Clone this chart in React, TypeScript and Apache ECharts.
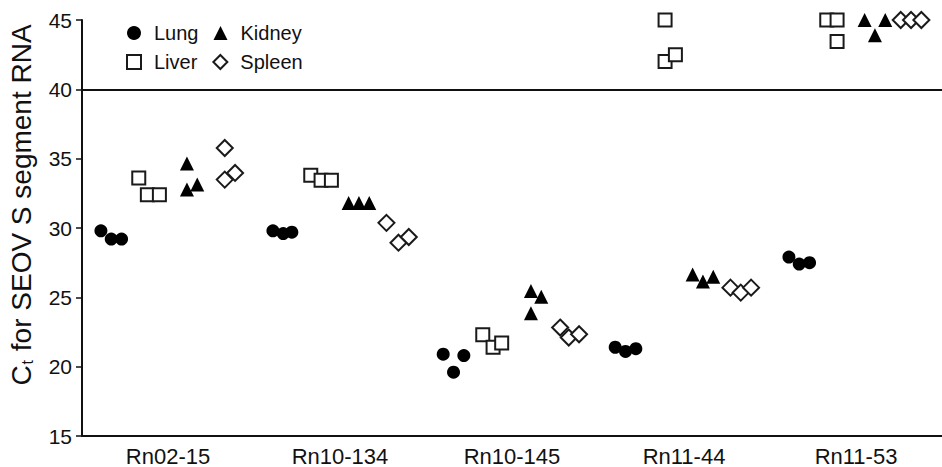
import React, { useEffect, useRef } from "react";
import * as echarts from "echarts";

// Categories (virus genotype samples)
const genes: string[] = ["Rn02-15", "Rn10-134", "Rn10-145", "Rn11-44", "Rn11-53"];

// Ct values per organ, triplicates per sample (45 = not detected)
const lungCt: number[][] = [
  [29.8, 29.2, 29.2],
  [29.8, 29.6, 29.7],
  [20.9, 19.6, 20.8],
  [21.4, 21.1, 21.3],
  [27.9, 27.4, 27.5],
];
const liverCt: number[][] = [
  [33.6, 32.4, 32.4],
  [33.8, 33.45, 33.45],
  [22.3, 21.4, 21.7],
  [45, 42.0, 42.5],
  [45, 45, 43.45],
];
const kidneyCt: number[][] = [
  [34.65, 32.77, 33.13],
  [31.8, 31.8, 31.8],
  [25.45, 25.05, 23.85],
  [26.65, 26.15, 26.49],
  [45, 43.9, 45],
];
const spleenCt: number[][] = [
  [35.77, 33.49, 33.97],
  [30.37, 28.94, 29.35],
  [22.82, 22.1, 22.34],
  [25.7, 25.34, 25.7],
  [45, 45, 45],
];

// Horizontal jitter of each replicate, in category units
const lungDx: number[][] = [
  [-0.39, -0.33, -0.27],
  [-0.39, -0.33, -0.28],
  [-0.4, -0.34, -0.28],
  [-0.4, -0.34, -0.28],
  [-0.39, -0.33, -0.27],
];
const liverDx: number[][] = [
  [-0.17, -0.12, -0.05],
  [-0.17, -0.11, -0.05],
  [-0.17, -0.11, -0.06],
  [-0.11, -0.11, -0.05],
  [-0.17, -0.11, -0.11],
];
const kidneyDx: number[][] = [
  [0.11, 0.11, 0.17],
  [0.05, 0.11, 0.17],
  [0.11, 0.17, 0.11],
  [0.05, 0.11, 0.17],
  [0.05, 0.11, 0.17],
];
const spleenDx: number[][] = [
  [0.33, 0.33, 0.39],
  [0.27, 0.34, 0.4],
  [0.28, 0.33, 0.39],
  [0.27, 0.33, 0.39],
  [0.26, 0.32, 0.38],
];

const cutoff = 40;

const FONT = "'Liberation Sans', Arial, Helvetica, sans-serif";
const INK = "#111";

function toPoints(ct: number[][], dx: number[][]): number[][] {
  const out: number[][] = [];
  ct.forEach((row, i) => row.forEach((v, j) => out.push([i + dx[i][j], v])));
  return out;
}

export default function App() {
  const ref = useRef<HTMLDivElement>(null);
  useEffect(() => {
    if (!ref.current) return;
    const chart = echarts.init(ref.current, undefined, { renderer: "svg" });
    const filled = { color: "#000", opacity: 1 };
    const hollow = { color: "#fff", borderColor: "#1a1a1a", borderWidth: 2, opacity: 1 };
    chart.setOption({
      animation: false,
      backgroundColor: "#fff",
      grid: { left: 82, right: -10, top: 20, bottom: 30, containLabel: false },
      legend: {
        left: 126,
        top: 23,
        width: 200,
        padding: 0,
        orient: "horizontal",
        itemWidth: 14,
        itemHeight: 14,
        itemGap: 9,
        selectedMode: false,
        data: ["Lung", "Kidney", "Liver", "Spleen"],
        formatter: (name: string) => `{t|${name}}`,
        textStyle: {
          fontFamily: FONT,
          fontSize: 20,
          color: INK,
          rich: {
            t: { fontFamily: FONT, fontSize: 20, lineHeight: 20, color: INK, padding: [0, 6, 0, 8] },
          },
        },
      },
      xAxis: [
        {
          type: "category",
          data: genes,
          boundaryGap: true,
          axisLine: { onZero: false, lineStyle: { color: INK, width: 2 } },
          axisTick: { alignWithLabel: true, length: 6, lineStyle: { color: INK, width: 1.5 } },
          axisLabel: { fontFamily: FONT, fontSize: 22, color: INK, margin: 9 },
          splitLine: { show: false },
        },
        { type: "value", min: -0.5, max: 4.5, show: false },
      ],
      yAxis: {
        type: "value",
        min: 15,
        max: 45,
        interval: 5,
        axisLine: { show: true, onZero: false, lineStyle: { color: INK, width: 2 } },
        axisTick: { show: true, length: 6, lineStyle: { color: INK, width: 1.5 } },
        axisLabel: { fontFamily: FONT, fontSize: 21, color: INK, margin: 10 },
        splitLine: { show: false },
      },
      graphic: [
        {
          type: "text",
          x: 21,
          y: 205,
          rotation: Math.PI / 2,
          style: {
            text: "{c|C}{s|t}{c| for SEOV S segment RNA}",
            align: "center",
            verticalAlign: "middle",
            rich: {
              c: { fontFamily: FONT, fontSize: 28, lineHeight: 28, fill: INK, verticalAlign: "middle" },
              s: { fontFamily: FONT, fontSize: 16, lineHeight: 15, fill: INK, verticalAlign: "bottom", padding: [17, 1, 0, 1] },
            },
          },
        },
      ],
      series: [
        {
          name: "Lung",
          type: "scatter",
          xAxisIndex: 1,
          symbol: "circle",
          symbolSize: 13,
          itemStyle: filled,
          data: toPoints(lungCt, lungDx),
          markLine: {
            silent: true,
            symbol: ["none", "none"],
            label: { show: false },
            lineStyle: { color: INK, width: 2, type: "solid", opacity: 1 },
            data: [{ yAxis: cutoff }],
          },
          z: 3,
        },
        {
          name: "Kidney",
          type: "scatter",
          xAxisIndex: 1,
          symbol: "triangle",
          symbolSize: 14,
          itemStyle: filled,
          data: toPoints(kidneyCt, kidneyDx),
          z: 3,
        },
        {
          name: "Liver",
          type: "scatter",
          xAxisIndex: 1,
          symbol: "rect",
          symbolSize: 13,
          itemStyle: hollow,
          data: toPoints(liverCt, liverDx),
          z: 3,
        },
        {
          name: "Spleen",
          type: "scatter",
          xAxisIndex: 1,
          symbol: "diamond",
          symbolSize: 16,
          itemStyle: hollow,
          data: toPoints(spleenCt, spleenDx),
          z: 3,
        },
      ],
    });
    return () => chart.dispose();
  }, []);
  return (
    <div
      ref={ref}
      style={{ position: "fixed", left: 0, top: 0, width: 942, height: 467, background: "#fff" }}
    />
  );
}
